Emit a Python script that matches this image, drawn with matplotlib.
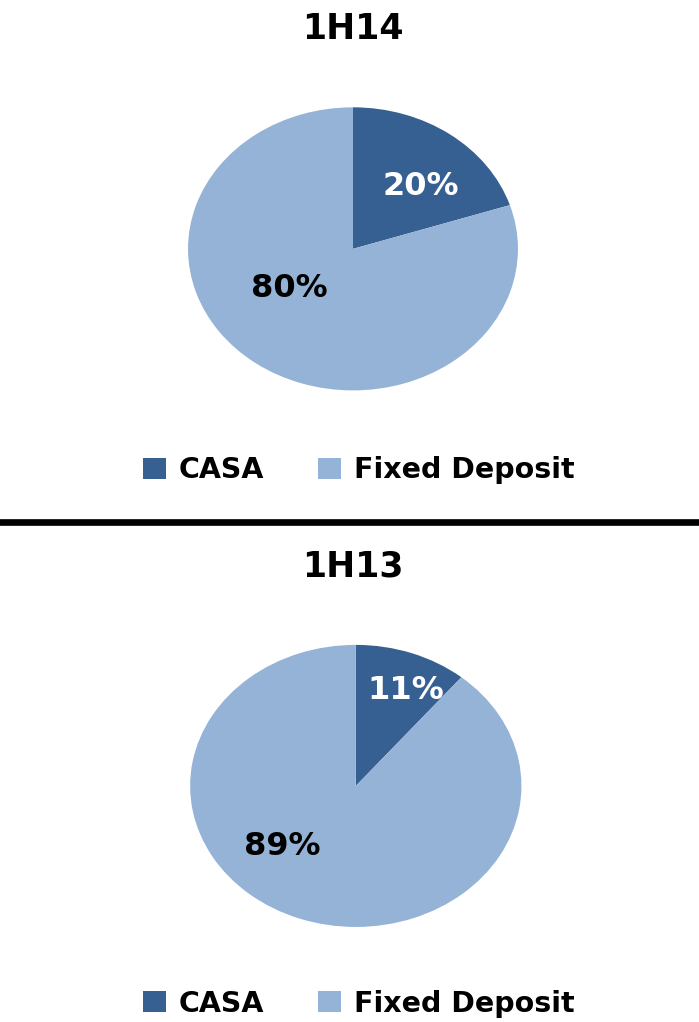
import numpy as np
import matplotlib.pyplot as plt
from matplotlib.patches import Patch

# data
labels = ['CASA', 'Fixed Deposit']
periods = ['1H14', '1H13']
shares_1h14 = [20, 80]
shares_1h13 = [11, 89]
colors = ['#376092', '#95B3D7']

plt.rcParams['font.family'] = ['DejaVu Sans']

fig = plt.figure(figsize=(6.99, 10.22), dpi=100)


def draw_pie(rect, values, title, title_y, legend_y, label_dist):
    ax = fig.add_axes(rect)
    wedges, _, autotexts = ax.pie(values, colors=colors, startangle=90,
                                  counterclock=False, autopct='%1.0f%%',
                                  pctdistance=0.6,
                                  textprops={'fontsize': 23, 'fontweight': 'bold'})
    ax.set_aspect('auto')
    ax.set_xlim(-1, 1)
    ax.set_ylim(-1, 1)
    # move labels a bit like the original
    for t, (r, shift) in zip(autotexts, label_dist):
        x, y = t.get_position()
        ang = np.arctan2(y, x) + np.deg2rad(shift)
        t.set_position((r * np.cos(ang), r * np.sin(ang)))
    autotexts[0].set_color('white')
    autotexts[1].set_color('black')
    fig.text(0.505, title_y, title, ha='center', va='center',
             fontsize=25, fontweight='bold')
    handles = [Patch(facecolor=c, edgecolor='none') for c in colors]
    fig.legend(handles, labels, loc='center', bbox_to_anchor=(0.513, legend_y),
               ncol=2, frameon=False,
               prop={'weight': 'bold', 'size': 20.5},
               handlelength=0.8, handleheight=0.75, handletextpad=0.45,
               columnspacing=1.9)
    return ax


draw_pie([0.269, 0.618, 0.472, 0.277], shares_1h14, periods[0], 0.972, 0.540,
         [(0.6, -7), (0.48, -18)])
draw_pie([0.272, 0.093, 0.474, 0.276], shares_1h13, periods[1], 0.446, 0.018,
         [(0.74, -4), (0.62, -26)])

# separator line
fig.add_artist(plt.Line2D([0, 1], [0.489, 0.489], color='black', linewidth=4.8))

fig.savefig('out.png', dpi=100)
